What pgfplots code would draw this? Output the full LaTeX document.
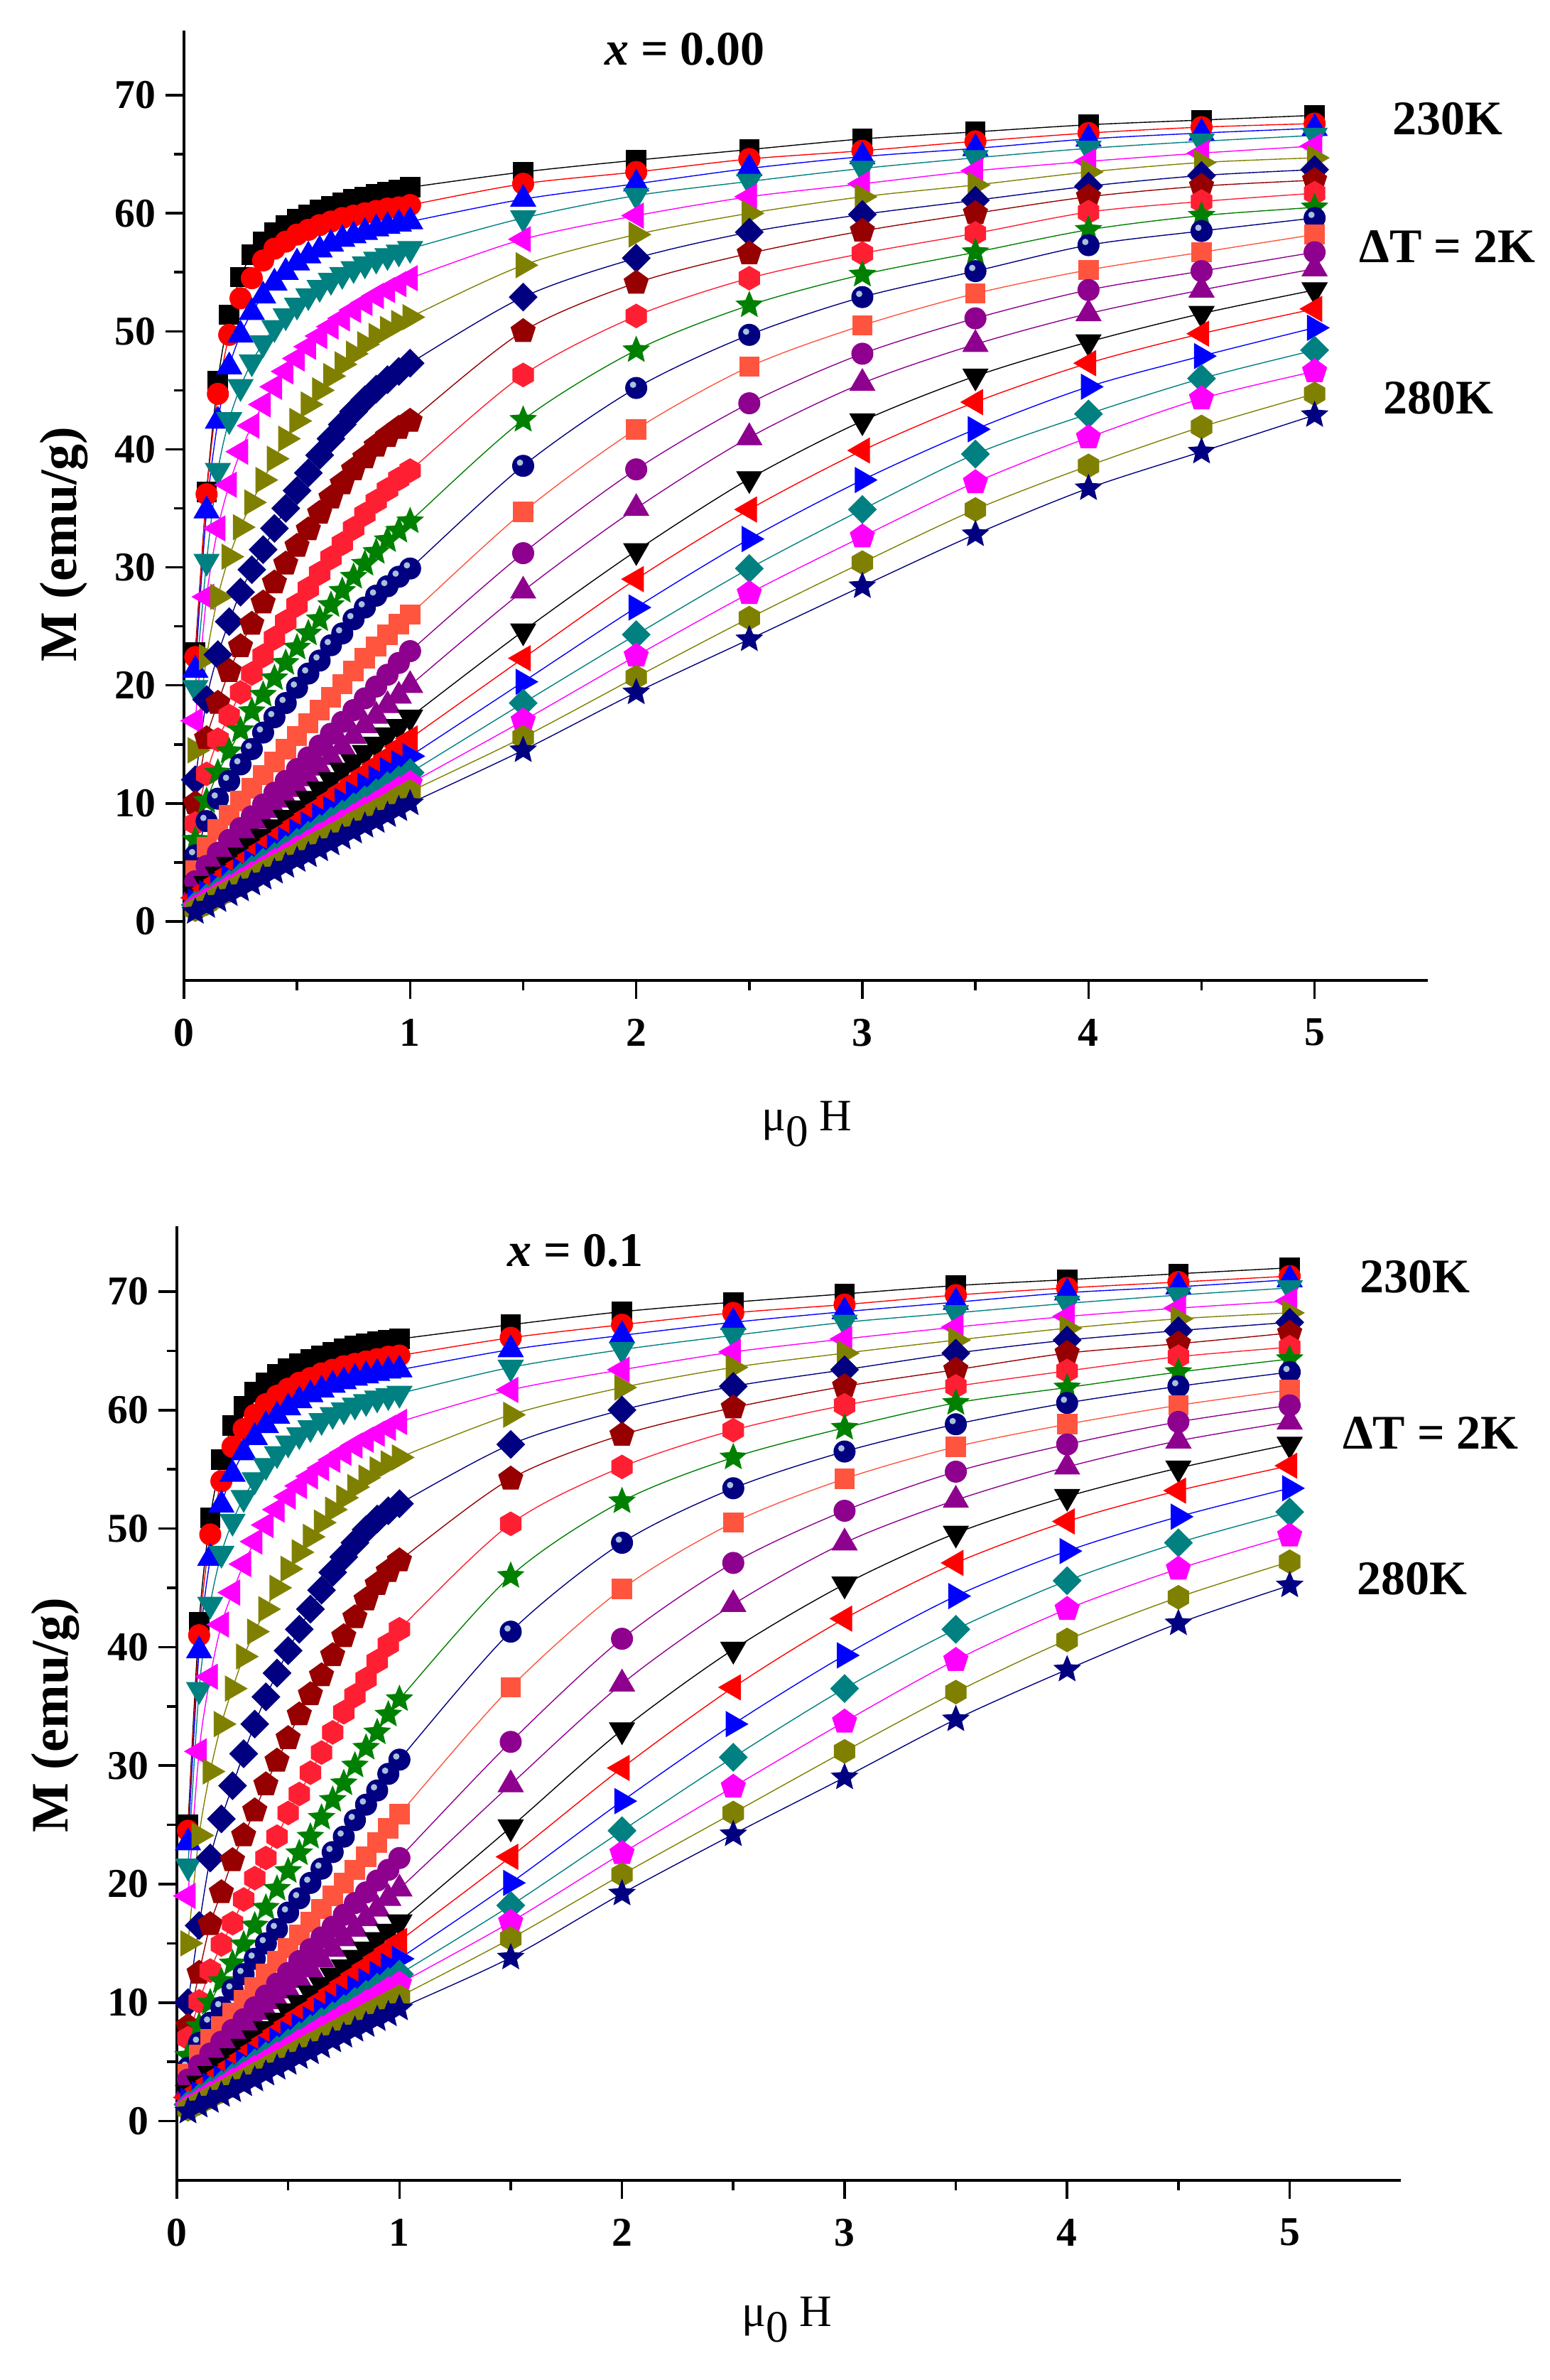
\documentclass[border=0pt]{standalone}
\usepackage{fontspec}
\setmainfont{Liberation Serif}
\usepackage{pgfplots}
\pgfplotsset{compat=1.18}
\usetikzlibrary{plotmarks}
\definecolor{cblack}{HTML}{000000}
\definecolor{cred}{HTML}{FF0000}
\definecolor{cblue}{HTML}{0000FF}
\definecolor{cteal}{HTML}{008080}
\definecolor{cmag}{HTML}{FF00FF}
\definecolor{colive}{HTML}{808000}
\definecolor{cnavy}{HTML}{000080}
\definecolor{cdred}{HTML}{960000}
\definecolor{chex}{HTML}{FF1F33}
\definecolor{cgreen}{HTML}{008000}
\definecolor{corange}{HTML}{FF553F}
\definecolor{cpurple}{HTML}{8E008E}
\definecolor{ballhl}{HTML}{A8C0DC}
\pgfdeclareplotmark{hexa}{%
  \pgfpathmoveto{\pgfqpointpolar{90}{\pgfplotmarksize}}%
  \pgfpathlineto{\pgfqpointpolar{150}{\pgfplotmarksize}}%
  \pgfpathlineto{\pgfqpointpolar{210}{\pgfplotmarksize}}%
  \pgfpathlineto{\pgfqpointpolar{270}{\pgfplotmarksize}}%
  \pgfpathlineto{\pgfqpointpolar{330}{\pgfplotmarksize}}%
  \pgfpathlineto{\pgfqpointpolar{30}{\pgfplotmarksize}}%
  \pgfpathclose\pgfusepathqfillstroke}
\pgfdeclareplotmark{fstar}{%
  \pgfpathmoveto{\pgfqpointpolar{90}{\pgfplotmarksize}}%
  \pgfpathlineto{\pgfqpointpolar{126}{0.45\pgfplotmarksize}}%
  \pgfpathlineto{\pgfqpointpolar{162}{\pgfplotmarksize}}%
  \pgfpathlineto{\pgfqpointpolar{198}{0.45\pgfplotmarksize}}%
  \pgfpathlineto{\pgfqpointpolar{234}{\pgfplotmarksize}}%
  \pgfpathlineto{\pgfqpointpolar{270}{0.45\pgfplotmarksize}}%
  \pgfpathlineto{\pgfqpointpolar{306}{\pgfplotmarksize}}%
  \pgfpathlineto{\pgfqpointpolar{342}{0.45\pgfplotmarksize}}%
  \pgfpathlineto{\pgfqpointpolar{18}{\pgfplotmarksize}}%
  \pgfpathlineto{\pgfqpointpolar{54}{0.45\pgfplotmarksize}}%
  \pgfpathclose\pgfusepathqfillstroke}
\pgfdeclareplotmark{rdia}{%
  \pgfpathmoveto{\pgfqpoint{0pt}{\pgfplotmarksize}}%
  \pgfpathlineto{\pgfqpoint{\pgfplotmarksize}{0pt}}%
  \pgfpathlineto{\pgfqpoint{0pt}{-\pgfplotmarksize}}%
  \pgfpathlineto{\pgfqpoint{-\pgfplotmarksize}{0pt}}%
  \pgfpathclose\pgfusepathqfillstroke}
\pgfdeclareplotmark{nball}{%
  \pgfpathcircle{\pgfpointorigin}{\pgfplotmarksize}\pgfusepathqfillstroke
  \pgfscope\pgfsetfillcolor{ballhl}%
  \pgfpathcircle{\pgfqpoint{-0.3\pgfplotmarksize}{0.3\pgfplotmarksize}}{0.3\pgfplotmarksize}\pgfusepathqfill
  \endpgfscope}
\pgfplotsset{
  sb/.style={smooth,line width=0.35pt},
  ser1/.style={sb,color=cblack,mark=square*,mark size=3.45pt,mark options={solid,line width=0.25pt}},
  ser2/.style={sb,color=cred,mark=*,mark size=3.75pt,mark options={solid,line width=0.25pt}},
  ser3/.style={sb,color=cblue,mark=triangle*,mark size=5.1pt,mark options={solid,line width=0.25pt}},
  ser4/.style={sb,color=cteal,mark=triangle*,mark size=5.1pt,mark options={solid,line width=0.25pt,rotate=180}},
  ser5/.style={sb,color=cmag,mark=triangle*,mark size=5.1pt,mark options={solid,line width=0.25pt,rotate=90}},
  ser6/.style={sb,color=colive,mark=triangle*,mark size=5.1pt,mark options={solid,line width=0.25pt,rotate=-90}},
  ser7/.style={sb,color=cnavy,mark=rdia,mark size=4.9pt,mark options={solid,line width=0.25pt}},
  ser8/.style={sb,color=cdred,mark=pentagon*,mark size=4.5pt,mark options={solid,line width=0.25pt}},
  ser9/.style={sb,color=chex,mark=hexa,mark size=4.2pt,mark options={solid,line width=0.25pt}},
  ser10/.style={sb,color=cgreen,mark=fstar,mark size=4.8pt,mark options={solid,line width=0.25pt}},
  ser11/.style={sb,color=cnavy,mark=nball,mark size=3.75pt,mark options={solid,line width=0.25pt}},
  ser12/.style={sb,color=corange,mark=square*,mark size=3.45pt,mark options={solid,line width=0.25pt}},
  ser13/.style={sb,color=cpurple,mark=*,mark size=3.75pt,mark options={solid,line width=0.25pt}},
  ser14/.style={sb,color=cpurple,mark=triangle*,mark size=5.1pt,mark options={solid,line width=0.25pt}},
  ser15/.style={sb,color=cblack,mark=triangle*,mark size=5.1pt,mark options={solid,line width=0.25pt,rotate=180}},
  ser16/.style={sb,color=cred,mark=triangle*,mark size=5.1pt,mark options={solid,line width=0.25pt,rotate=90}},
  ser17/.style={sb,color=cblue,mark=triangle*,mark size=5.1pt,mark options={solid,line width=0.25pt,rotate=-90}},
  ser18/.style={sb,color=cteal,mark=rdia,mark size=4.9pt,mark options={solid,line width=0.25pt}},
  ser19/.style={sb,color=cmag,mark=pentagon*,mark size=4.5pt,mark options={solid,line width=0.25pt}},
  ser20/.style={sb,color=colive,mark=hexa,mark size=4.2pt,mark options={solid,line width=0.25pt}},
  ser21/.style={sb,color=cnavy,mark=fstar,mark size=4.8pt,mark options={solid,line width=0.25pt}},
  maxis/.style={scale only axis, anchor=south west, xmin=0, xmax=5.5, ymin=-5, ymax=75.5,
    axis x line*=bottom, axis y line*=left, axis line style={line width=1.1pt,-},
    xtick={0,1,2,3,4,5}, ytick={0,10,20,30,40,50,60,70},
    minor xtick={0.5,1.5,2.5,3.5,4.5}, minor ytick={5,15,25,35,45,55,65},
    tick align=outside, major tick length=6.5pt, minor tick length=3.5pt,
    tick style={black,line width=0.9pt},
    tick label style={font=\fontsize{14.4}{16}\selectfont\bfseries},
    xticklabel style={yshift=-3.5pt},
    /pgf/number format/assume math mode=true, clip=false},
}
\begin{document}
\begin{tikzpicture}[x=1pt,y=1pt]
\path[use as bounding box] (0,0) rectangle (545.5,837.5);
% ---------------- top panel: x = 0.00
\begin{axis}[maxis, at={(64.75pt,492.5pt)}, width=437.7pt, height=334.3pt]
\addplot[ser1] coordinates {(0.05,22.8)(0.1,36.4)(0.15,45.8)(0.2,51.4)(0.25,54.6)(0.3,56.5)(0.35,57.6)(0.4,58.4)(0.45,59.0)(0.5,59.5)(0.55,59.9)(0.6,60.3)(0.65,60.6)(0.7,60.9)(0.75,61.2)(0.8,61.4)(0.85,61.6)(0.9,61.8)(0.95,62.0)(1,62.2)(1.5,63.5)(2,64.5)(2.5,65.4)(3,66.3)(3.5,66.9)(4,67.5)(4.5,67.9)(5,68.3)};
\addplot[ser2] coordinates {(0.05,22.4)(0.1,36.2)(0.15,44.7)(0.2,49.7)(0.25,52.8)(0.3,54.5)(0.35,56.0)(0.4,57.0)(0.45,57.6)(0.5,58.2)(0.55,58.6)(0.6,59.0)(0.65,59.3)(0.7,59.6)(0.75,59.8)(0.8,60.0)(0.85,60.2)(0.9,60.4)(0.95,60.5)(1,60.7)(1.5,62.5)(2,63.5)(2.5,64.6)(3,65.3)(3.5,66.1)(4,66.8)(4.5,67.3)(5,67.6)};
\addplot[ser3] coordinates {(0.05,21.3)(0.1,34.8)(0.15,42.4)(0.2,47.0)(0.25,49.7)(0.3,51.6)(0.35,53.0)(0.4,54.1)(0.45,55.0)(0.5,55.8)(0.55,56.4)(0.6,56.9)(0.65,57.4)(0.7,57.8)(0.75,58.1)(0.8,58.4)(0.85,58.7)(0.9,58.9)(0.95,59.1)(1,59.3)(1.5,61.2)(2,62.5)(2.5,63.8)(3,64.8)(3.5,65.5)(4,66.3)(4.5,66.8)(5,67.2)};
\addplot[ser4] coordinates {(0.05,19.8)(0.1,30.5)(0.15,38.2)(0.2,42.5)(0.25,45.3)(0.3,47.4)(0.35,49.0)(0.4,50.3)(0.45,51.3)(0.5,52.2)(0.55,53.0)(0.6,53.7)(0.65,54.3)(0.7,54.8)(0.75,55.3)(0.8,55.7)(0.85,56.1)(0.9,56.4)(0.95,56.7)(1,57.0)(1.5,59.6)(2,61.5)(2.5,62.7)(3,63.8)(3.5,64.7)(4,65.5)(4.5,66.1)(5,66.6)};
\addplot[ser5] coordinates {(0.05,17.0)(0.1,27.5)(0.15,33.3)(0.2,37.0)(0.25,39.8)(0.3,42.0)(0.35,43.8)(0.4,45.3)(0.45,46.6)(0.5,47.7)(0.55,48.7)(0.6,49.6)(0.65,50.4)(0.7,51.1)(0.75,51.8)(0.8,52.4)(0.85,53.0)(0.9,53.5)(0.95,54.0)(1,54.5)(1.5,57.8)(2,59.8)(2.5,61.4)(3,62.5)(3.5,63.6)(4,64.4)(4.5,65.1)(5,65.7)};
\addplot[ser6] coordinates {(0.05,14.5)(0.1,22.4)(0.15,27.5)(0.2,30.9)(0.25,33.4)(0.3,35.5)(0.35,37.4)(0.4,39.2)(0.45,40.9)(0.5,42.4)(0.55,43.8)(0.6,45.0)(0.65,46.2)(0.7,47.2)(0.75,48.1)(0.8,48.9)(0.85,49.6)(0.9,50.2)(0.95,50.7)(1,51.2)(1.5,55.6)(2,58.2)(2.5,60.0)(3,61.4)(3.5,62.4)(4,63.5)(4.5,64.3)(5,64.7)};
\addplot[ser7] coordinates {(0.05,12.0)(0.1,18.8)(0.15,22.6)(0.2,25.4)(0.25,27.9)(0.3,29.8)(0.35,31.5)(0.4,33.3)(0.45,35.0)(0.5,36.5)(0.55,38.0)(0.6,39.5)(0.65,40.9)(0.7,42.1)(0.75,43.2)(0.8,44.2)(0.85,45.1)(0.9,45.9)(0.95,46.6)(1,47.3)(1.5,52.9)(2,56.2)(2.5,58.4)(3,59.9)(3.5,61.1)(4,62.3)(4.5,63.2)(5,63.7)};
\addplot[ser8] coordinates {(0.05,10.0)(0.1,15.5)(0.15,18.5)(0.2,21.2)(0.25,23.3)(0.3,25.2)(0.35,27.0)(0.4,28.7)(0.45,30.3)(0.5,31.8)(0.55,33.2)(0.6,34.6)(0.65,35.9)(0.7,37.1)(0.75,38.3)(0.8,39.3)(0.85,40.3)(0.9,41.1)(0.95,41.8)(1,42.4)(1.5,50.0)(2,54.1)(2.5,56.6)(3,58.5)(3.5,60.0)(4,61.4)(4.5,62.3)(5,62.8)};
\addplot[ser9] coordinates {(0.05,8.3)(0.1,12.5)(0.15,15.4)(0.2,17.4)(0.25,19.4)(0.3,21.0)(0.35,22.5)(0.4,24.0)(0.45,25.4)(0.5,26.8)(0.55,28.2)(0.6,29.5)(0.65,30.8)(0.7,32.0)(0.75,33.3)(0.8,34.5)(0.85,35.6)(0.9,36.6)(0.95,37.5)(1,38.2)(1.5,46.3)(2,51.3)(2.5,54.5)(3,56.6)(3.5,58.3)(4,60.1)(4.5,61.0)(5,61.7)};
\addplot[ser10] coordinates {(0.05,6.9)(0.1,10.2)(0.15,12.6)(0.2,14.4)(0.25,16.2)(0.3,17.8)(0.35,19.2)(0.4,20.6)(0.45,21.9)(0.5,23.2)(0.55,24.4)(0.6,25.6)(0.65,26.8)(0.7,28.0)(0.75,29.2)(0.8,30.3)(0.85,31.3)(0.9,32.3)(0.95,33.1)(1,33.9)(1.5,42.5)(2,48.4)(2.5,52.2)(3,54.8)(3.5,56.7)(4,58.6)(4.5,59.8)(5,60.5)};
\addplot[ser11] coordinates {(0.05,5.6)(0.1,8.5)(0.15,10.4)(0.2,11.9)(0.25,13.3)(0.3,14.6)(0.35,16.0)(0.4,17.3)(0.45,18.5)(0.5,19.8)(0.55,21.0)(0.6,22.1)(0.65,23.4)(0.7,24.4)(0.75,25.6)(0.8,26.6)(0.85,27.6)(0.9,28.4)(0.95,29.2)(1,29.9)(1.5,38.6)(2,45.2)(2.5,49.7)(3,52.9)(3.5,55.1)(4,57.3)(4.5,58.5)(5,59.6)};
\addplot[ser12] coordinates {(0.05,4.3)(0.1,6.3)(0.15,7.8)(0.2,9.0)(0.25,10.2)(0.3,11.3)(0.35,12.4)(0.4,13.5)(0.45,14.6)(0.5,15.7)(0.55,16.8)(0.6,17.9)(0.65,19.0)(0.7,20.1)(0.75,21.2)(0.8,22.3)(0.85,23.3)(0.9,24.3)(0.95,25.2)(1,26.0)(1.5,34.7)(2,41.7)(2.5,47.0)(3,50.5)(3.5,53.2)(4,55.2)(4.5,56.7)(5,58.2)};
\addplot[ser13] coordinates {(0.05,3.4)(0.1,4.7)(0.15,5.8)(0.2,6.9)(0.25,7.9)(0.3,8.9)(0.35,9.9)(0.4,10.9)(0.45,11.9)(0.5,12.9)(0.55,13.9)(0.6,14.9)(0.65,15.9)(0.7,16.9)(0.75,17.9)(0.8,18.9)(0.85,19.9)(0.9,20.9)(0.95,21.9)(1,22.9)(1.5,31.2)(2,38.3)(2.5,43.9)(3,48.1)(3.5,51.1)(4,53.5)(4.5,55.1)(5,56.7)};
\addplot[ser14] coordinates {(0.05,2.8)(0.1,3.9)(0.15,4.9)(0.2,5.8)(0.25,6.7)(0.3,7.6)(0.35,8.5)(0.4,9.4)(0.45,10.3)(0.5,11.2)(0.55,12.1)(0.6,13.0)(0.65,13.9)(0.7,14.8)(0.75,15.7)(0.8,16.6)(0.85,17.4)(0.9,18.3)(0.95,19.1)(1,20.0)(1.5,28.0)(2,35.0)(2.5,41.0)(3,45.6)(3.5,48.9)(4,51.5)(4.5,53.5)(5,55.3)};
\addplot[ser15] coordinates {(0.05,2.3)(0.1,3.2)(0.15,4.0)(0.2,4.8)(0.25,5.6)(0.3,6.4)(0.35,7.2)(0.4,8.0)(0.45,8.8)(0.5,9.6)(0.55,10.4)(0.6,11.2)(0.65,12.0)(0.7,12.8)(0.75,13.5)(0.8,14.3)(0.85,15.0)(0.9,15.8)(0.95,16.5)(1,17.3)(1.5,24.6)(2,31.4)(2.5,37.5)(3,42.4)(3.5,46.2)(4,49.1)(4.5,51.5)(5,53.5)};
\addplot[ser16] coordinates {(0.05,2.0)(0.1,2.8)(0.15,3.5)(0.2,4.2)(0.25,4.9)(0.3,5.6)(0.35,6.3)(0.4,7.0)(0.45,7.7)(0.5,8.4)(0.55,9.1)(0.6,9.8)(0.65,10.5)(0.7,11.2)(0.75,11.9)(0.8,12.6)(0.85,13.3)(0.9,14.0)(0.95,14.8)(1,15.5)(1.5,22.3)(2,29.0)(2.5,34.9)(3,39.9)(3.5,44.0)(4,47.3)(4.5,49.8)(5,51.9)};
\addplot[ser17] coordinates {(0.05,1.7)(0.1,2.4)(0.15,3.0)(0.2,3.7)(0.25,4.3)(0.3,5.0)(0.35,5.6)(0.4,6.3)(0.45,6.9)(0.5,7.6)(0.55,8.2)(0.6,8.9)(0.65,9.5)(0.7,10.2)(0.75,10.8)(0.8,11.5)(0.85,12.1)(0.9,12.8)(0.95,13.4)(1,14.0)(1.5,20.3)(2,26.6)(2.5,32.4)(3,37.4)(3.5,41.7)(4,45.3)(4.5,47.9)(5,50.3)};
\addplot[ser18] coordinates {(0.05,1.4)(0.1,2.0)(0.15,2.6)(0.2,3.2)(0.25,3.8)(0.3,4.4)(0.35,5.0)(0.4,5.5)(0.45,6.1)(0.5,6.7)(0.55,7.3)(0.6,7.9)(0.65,8.5)(0.7,9.1)(0.75,9.7)(0.8,10.3)(0.85,10.9)(0.9,11.5)(0.95,12.0)(1,12.6)(1.5,18.5)(2,24.3)(2.5,29.9)(3,34.9)(3.5,39.6)(4,43.0)(4.5,46.0)(5,48.4)};
\addplot[ser19] coordinates {(0.05,1.2)(0.1,1.8)(0.15,2.3)(0.2,2.9)(0.25,3.4)(0.3,4.0)(0.35,4.5)(0.4,5.1)(0.45,5.6)(0.5,6.2)(0.55,6.7)(0.6,7.3)(0.65,7.8)(0.7,8.4)(0.75,8.9)(0.8,9.5)(0.85,10.0)(0.9,10.6)(0.95,11.2)(1,11.7)(1.5,17.0)(2,22.5)(2.5,27.8)(3,32.6)(3.5,37.2)(4,41.0)(4.5,44.3)(5,46.6)};
\addplot[ser20] coordinates {(0.05,1.0)(0.1,1.5)(0.15,2.1)(0.2,2.6)(0.25,3.1)(0.3,3.6)(0.35,4.2)(0.4,4.7)(0.45,5.2)(0.5,5.7)(0.55,6.3)(0.6,6.8)(0.65,7.3)(0.7,7.8)(0.75,8.4)(0.8,8.9)(0.85,9.4)(0.9,9.9)(0.95,10.5)(1,11.0)(1.5,15.6)(2,20.7)(2.5,25.7)(3,30.4)(3.5,34.9)(4,38.6)(4.5,41.9)(5,44.7)};
\addplot[ser21] coordinates {(0.05,0.8)(0.1,1.3)(0.15,1.8)(0.2,2.3)(0.25,2.7)(0.3,3.2)(0.35,3.7)(0.4,4.2)(0.45,4.7)(0.5,5.2)(0.55,5.6)(0.6,6.1)(0.65,6.6)(0.7,7.1)(0.75,7.6)(0.8,8.1)(0.85,8.5)(0.9,9.0)(0.95,9.5)(1,10.0)(1.5,14.5)(2,19.4)(2.5,23.9)(3,28.4)(3.5,32.8)(4,36.7)(4.5,39.8)(5,42.9)};
\end{axis}
% ---------------- bottom panel: x = 0.1
\begin{axis}[maxis, at={(62.25pt,70.25pt)}, width=430.8pt, height=335.7pt]
\addplot[ser1] coordinates {(0.05,25.0)(0.1,42.1)(0.15,50.9)(0.2,55.8)(0.25,58.7)(0.3,60.3)(0.35,61.5)(0.4,62.3)(0.45,63.0)(0.5,63.5)(0.55,63.9)(0.6,64.3)(0.65,64.6)(0.7,64.9)(0.75,65.2)(0.8,65.4)(0.85,65.6)(0.9,65.8)(0.95,65.9)(1,66.0)(1.5,67.2)(2,68.3)(2.5,69.1)(3,69.8)(3.5,70.5)(4,71.0)(4.5,71.5)(5,72.0)};
\addplot[ser2] coordinates {(0.05,24.5)(0.1,41.0)(0.15,49.5)(0.2,54.0)(0.25,56.9)(0.3,58.4)(0.35,59.6)(0.4,60.5)(0.45,61.2)(0.5,61.8)(0.55,62.3)(0.6,62.7)(0.65,63.1)(0.7,63.4)(0.75,63.7)(0.8,63.9)(0.85,64.1)(0.9,64.3)(0.95,64.5)(1,64.6)(1.5,66.1)(2,67.2)(2.5,68.2)(3,68.9)(3.5,69.7)(4,70.3)(4.5,70.8)(5,71.3)};
\addplot[ser3] coordinates {(0.05,23.5)(0.1,39.7)(0.15,47.5)(0.2,52.0)(0.25,54.6)(0.3,56.4)(0.35,57.7)(0.4,58.7)(0.45,59.5)(0.5,60.2)(0.55,60.8)(0.6,61.3)(0.65,61.7)(0.7,62.1)(0.75,62.4)(0.8,62.7)(0.85,62.9)(0.9,63.1)(0.95,63.3)(1,63.4)(1.5,65.1)(2,66.3)(2.5,67.4)(3,68.3)(3.5,69.1)(4,69.9)(4.5,70.4)(5,71.0)};
\addplot[ser4] coordinates {(0.05,21.5)(0.1,36.4)(0.15,43.6)(0.2,47.9)(0.25,50.6)(0.3,52.6)(0.35,54.1)(0.4,55.3)(0.45,56.3)(0.5,57.2)(0.55,57.9)(0.6,58.5)(0.65,59.1)(0.7,59.6)(0.75,60.0)(0.8,60.4)(0.85,60.7)(0.9,61.0)(0.95,61.2)(1,61.4)(1.5,63.6)(2,65.1)(2.5,66.3)(3,67.4)(3.5,68.2)(4,69.0)(4.5,69.7)(5,70.3)};
\addplot[ser5] coordinates {(0.05,19.0)(0.1,31.2)(0.15,37.5)(0.2,41.9)(0.25,44.6)(0.3,47.0)(0.35,48.9)(0.4,50.3)(0.45,51.6)(0.5,52.7)(0.55,53.6)(0.6,54.4)(0.65,55.1)(0.7,55.8)(0.75,56.4)(0.8,57.0)(0.85,57.5)(0.9,58.0)(0.95,58.5)(1,59.0)(1.5,61.7)(2,63.4)(2.5,64.9)(3,66.0)(3.5,67.0)(4,67.9)(4.5,68.6)(5,69.2)};
\addplot[ser6] coordinates {(0.05,15.0)(0.1,24.1)(0.15,29.5)(0.2,33.5)(0.25,36.5)(0.3,39.2)(0.35,41.3)(0.4,43.2)(0.45,45.0)(0.5,46.6)(0.55,48.0)(0.6,49.3)(0.65,50.5)(0.7,51.6)(0.75,52.6)(0.8,53.5)(0.85,54.3)(0.9,55.0)(0.95,55.5)(1,56.0)(1.5,59.6)(2,61.9)(2.5,63.6)(3,64.8)(3.5,65.9)(4,66.9)(4.5,67.7)(5,68.2)};
\addplot[ser7] coordinates {(0.05,10.0)(0.1,16.5)(0.15,22.2)(0.2,25.5)(0.25,28.3)(0.3,31.0)(0.35,33.5)(0.4,35.8)(0.45,37.8)(0.5,39.7)(0.55,41.5)(0.6,43.2)(0.65,44.8)(0.7,46.3)(0.75,47.6)(0.8,48.8)(0.85,49.9)(0.9,50.8)(0.95,51.5)(1,52.1)(1.5,57.1)(2,60.0)(2.5,62.0)(3,63.4)(3.5,64.8)(4,65.9)(4.5,66.7)(5,67.4)};
\addplot[ser8] coordinates {(0.05,8.0)(0.1,12.5)(0.15,16.6)(0.2,19.3)(0.25,22.0)(0.3,24.1)(0.35,26.2)(0.4,28.4)(0.45,30.4)(0.5,32.3)(0.55,34.3)(0.6,36.0)(0.65,37.6)(0.7,39.3)(0.75,40.9)(0.8,42.5)(0.85,44.0)(0.9,45.3)(0.95,46.4)(1,47.3)(1.5,54.2)(2,57.9)(2.5,60.2)(3,62.0)(3.5,63.4)(4,64.8)(4.5,65.6)(5,66.5)};
\addplot[ser9] coordinates {(0.05,7.0)(0.1,10.1)(0.15,12.7)(0.2,14.9)(0.25,16.7)(0.3,18.7)(0.35,20.5)(0.4,22.2)(0.45,24.0)(0.5,26.0)(0.55,27.6)(0.6,29.4)(0.65,31.1)(0.7,32.8)(0.75,34.5)(0.8,35.9)(0.85,37.3)(0.9,38.8)(0.95,40.2)(1,41.5)(1.5,50.4)(2,55.2)(2.5,58.3)(3,60.4)(3.5,62.0)(4,63.3)(4.5,64.5)(5,65.3)};
\addplot[ser10] coordinates {(0.05,5.5)(0.1,8.0)(0.15,10.0)(0.2,11.8)(0.25,13.3)(0.3,14.9)(0.35,16.5)(0.4,18.0)(0.45,19.6)(0.5,21.1)(0.55,22.6)(0.6,24.0)(0.65,25.6)(0.7,27.1)(0.75,28.5)(0.8,30.0)(0.85,31.5)(0.9,32.8)(0.95,34.3)(1,35.6)(1.5,46.0)(2,52.3)(2.5,56.0)(3,58.5)(3.5,60.6)(4,61.9)(4.5,63.2)(5,64.3)};
\addplot[ser11] coordinates {(0.05,4.5)(0.1,6.6)(0.15,8.3)(0.2,9.6)(0.25,11.1)(0.3,12.4)(0.35,13.7)(0.4,15.0)(0.45,16.2)(0.5,17.6)(0.55,18.8)(0.6,20.1)(0.65,21.3)(0.7,22.7)(0.75,24.0)(0.8,25.4)(0.85,26.7)(0.9,27.9)(0.95,29.3)(1,30.5)(1.5,41.3)(2,48.8)(2.5,53.4)(3,56.5)(3.5,58.8)(4,60.6)(4.5,62.0)(5,63.2)};
\addplot[ser12] coordinates {(0.05,4.0)(0.1,5.6)(0.15,6.9)(0.2,8.0)(0.25,9.1)(0.3,10.2)(0.35,11.3)(0.4,12.4)(0.45,13.5)(0.5,14.6)(0.55,15.7)(0.6,16.8)(0.65,17.9)(0.7,19.0)(0.75,20.1)(0.8,21.2)(0.85,22.3)(0.9,23.5)(0.95,24.7)(1,25.9)(1.5,36.6)(2,44.9)(2.5,50.5)(3,54.2)(3.5,56.9)(4,58.8)(4.5,60.4)(5,61.7)};
\addplot[ser13] coordinates {(0.05,3.5)(0.1,4.7)(0.15,5.7)(0.2,6.7)(0.25,7.7)(0.3,8.6)(0.35,9.6)(0.4,10.6)(0.45,11.6)(0.5,12.5)(0.55,13.5)(0.6,14.5)(0.65,15.5)(0.7,16.4)(0.75,17.4)(0.8,18.4)(0.85,19.3)(0.9,20.3)(0.95,21.2)(1,22.2)(1.5,32.0)(2,40.7)(2.5,47.1)(3,51.5)(3.5,54.8)(4,57.1)(4.5,59.0)(5,60.4)};
\addplot[ser14] coordinates {(0.05,2.8)(0.1,3.8)(0.15,4.7)(0.2,5.6)(0.25,6.5)(0.3,7.4)(0.35,8.3)(0.4,9.2)(0.45,10.1)(0.5,11.0)(0.55,11.9)(0.6,12.8)(0.65,13.6)(0.7,14.5)(0.75,15.4)(0.8,16.2)(0.85,17.1)(0.9,17.9)(0.95,18.8)(1,19.6)(1.5,28.4)(2,36.9)(2.5,43.6)(3,48.8)(3.5,52.4)(4,55.2)(4.5,57.4)(5,59.0)};
\addplot[ser15] coordinates {(0.05,2.4)(0.1,3.2)(0.15,4.0)(0.2,4.7)(0.25,5.5)(0.3,6.3)(0.35,7.0)(0.4,7.8)(0.45,8.5)(0.5,9.3)(0.55,10.0)(0.6,10.8)(0.65,11.5)(0.7,12.3)(0.75,13.0)(0.8,13.8)(0.85,14.5)(0.9,15.3)(0.95,16.0)(1,16.8)(1.5,24.8)(2,33.0)(2.5,39.8)(3,45.3)(3.5,49.6)(4,52.7)(4.5,55.1)(5,57.1)};
\addplot[ser16] coordinates {(0.05,2.0)(0.1,2.7)(0.15,3.4)(0.2,4.1)(0.25,4.8)(0.3,5.5)(0.35,6.2)(0.4,6.9)(0.45,7.6)(0.5,8.3)(0.55,9.0)(0.6,9.6)(0.65,10.3)(0.7,11.0)(0.75,11.7)(0.8,12.4)(0.85,13.1)(0.9,13.8)(0.95,14.5)(1,15.2)(1.5,22.3)(2,29.8)(2.5,36.6)(3,42.4)(3.5,47.1)(4,50.6)(4.5,53.2)(5,55.3)};
\addplot[ser17] coordinates {(0.05,1.7)(0.1,2.3)(0.15,3.0)(0.2,3.6)(0.25,4.2)(0.3,4.9)(0.35,5.5)(0.4,6.1)(0.45,6.8)(0.5,7.4)(0.55,8.0)(0.6,8.6)(0.65,9.3)(0.7,9.9)(0.75,10.5)(0.8,11.2)(0.85,11.8)(0.9,12.4)(0.95,13.1)(1,13.7)(1.5,20.1)(2,27.0)(2.5,33.5)(3,39.3)(3.5,44.3)(4,48.1)(4.5,51.0)(5,53.4)};
\addplot[ser18] coordinates {(0.05,1.4)(0.1,2.0)(0.15,2.6)(0.2,3.1)(0.25,3.7)(0.3,4.3)(0.35,4.9)(0.4,5.5)(0.45,6.0)(0.5,6.6)(0.55,7.2)(0.6,7.8)(0.65,8.4)(0.7,8.9)(0.75,9.5)(0.8,10.1)(0.85,10.7)(0.9,11.3)(0.95,11.8)(1,12.4)(1.5,18.2)(2,24.5)(2.5,30.7)(3,36.5)(3.5,41.5)(4,45.6)(4.5,48.8)(5,51.4)};
\addplot[ser19] coordinates {(0.05,1.2)(0.1,1.7)(0.15,2.3)(0.2,2.8)(0.25,3.4)(0.3,3.9)(0.35,4.5)(0.4,5.0)(0.45,5.6)(0.5,6.1)(0.55,6.7)(0.6,7.2)(0.65,7.8)(0.7,8.3)(0.75,8.9)(0.8,9.4)(0.85,10.0)(0.9,10.5)(0.95,11.1)(1,11.6)(1.5,16.8)(2,22.6)(2.5,28.2)(3,33.7)(3.5,38.9)(4,43.2)(4.5,46.6)(5,49.4)};
\addplot[ser20] coordinates {(0.05,1.0)(0.1,1.5)(0.15,2.0)(0.2,2.5)(0.25,3.0)(0.3,3.5)(0.35,4.0)(0.4,4.5)(0.45,5.0)(0.5,5.5)(0.55,6.0)(0.6,6.5)(0.65,7.0)(0.7,7.5)(0.75,8.0)(0.8,8.5)(0.85,9.0)(0.9,9.5)(0.95,10.0)(1,10.5)(1.5,15.4)(2,20.8)(2.5,26.0)(3,31.2)(3.5,36.2)(4,40.6)(4.5,44.2)(5,47.2)};
\addplot[ser21] coordinates {(0.05,0.8)(0.1,1.3)(0.15,1.7)(0.2,2.2)(0.25,2.6)(0.3,3.1)(0.35,3.5)(0.4,4.0)(0.45,4.5)(0.5,4.9)(0.55,5.4)(0.6,5.8)(0.65,6.3)(0.7,6.8)(0.75,7.2)(0.8,7.7)(0.85,8.1)(0.9,8.6)(0.95,9.0)(1,9.5)(1.5,13.8)(2,19.2)(2.5,24.2)(3,29.0)(3.5,33.9)(4,38.1)(4.5,42.0)(5,45.2)};
\end{axis}
% ---------------- texts
\node[anchor=base] at (241,814.5) {\fontsize{17}{20}\selectfont\bfseries\textit{x} = 0.00};
\node[anchor=base] at (509.5,790) {\fontsize{17}{20}\selectfont\bfseries 230K};
\node[anchor=base] at (509.4,745) {\fontsize{17}{20}\selectfont\bfseries ΔT = 2K};
\node[anchor=base] at (506.3,691.8) {\fontsize{17}{20}\selectfont\bfseries 280K};
\node[rotate=90,anchor=center] at (22.4,646) {\fontsize{18.5}{20}\selectfont\bfseries M (emu/g)};
\node[anchor=base] at (284,439.6) {\fontsize{15.8}{18}\selectfont μ\raisebox{-5.5pt}{0} H};
\node[anchor=base] at (202.5,391.8) {\fontsize{17}{20}\selectfont\bfseries\textit{x} = 0.1};
\node[anchor=base] at (498,382.5) {\fontsize{17}{20}\selectfont\bfseries 230K};
\node[anchor=base] at (503.5,327.5) {\fontsize{17}{20}\selectfont\bfseries ΔT = 2K};
\node[anchor=base] at (497,276.4) {\fontsize{17}{20}\selectfont\bfseries 280K};
\node[rotate=90,anchor=center] at (19.5,234) {\fontsize{18.5}{20}\selectfont\bfseries M (emu/g)};
\node[anchor=base] at (277,18.8) {\fontsize{15.8}{18}\selectfont μ\raisebox{-5.5pt}{0} H};
\end{tikzpicture}
\end{document}
